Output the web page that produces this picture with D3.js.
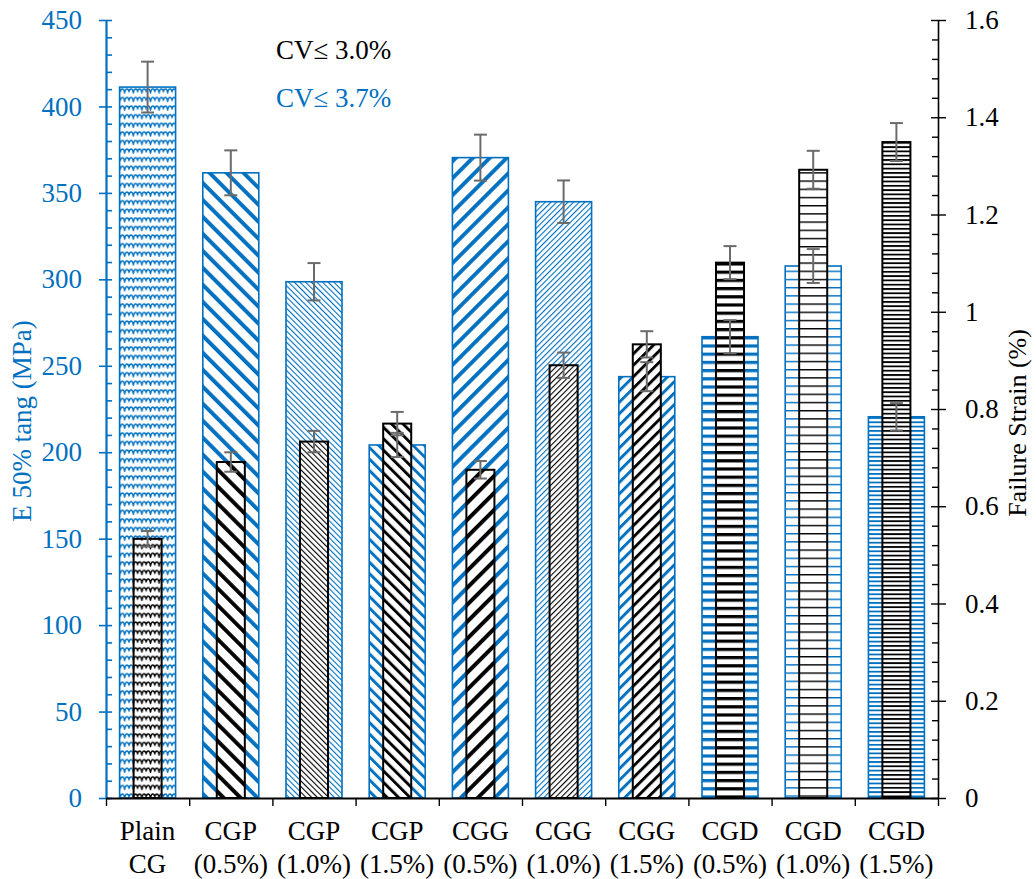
<!DOCTYPE html>
<html>
<head>
<meta charset="utf-8">
<script src="https://cdn.jsdelivr.net/npm/d3@7"></script>
<style>
  body { margin: 0; background: #fff; }
  svg { display: block; }
  svg text { font-family: "Liberation Serif", "DejaVu Serif", serif !important; }
</style>
</head>
<body>
<svg id="chart" width="1036" height="879"></svg>
<script>
// Mix designations and their two-line axis labels
const categories = ["Plain CG", "CGP (0.5%)", "CGP (1.0%)", "CGP (1.5%)", "CGG (0.5%)",
                    "CGG (1.0%)", "CGG (1.5%)", "CGD (0.5%)", "CGD (1.0%)", "CGD (1.5%)"];
const labelTop = ["Plain", "CGP", "CGP", "CGP", "CGG", "CGG", "CGG", "CGD", "CGD", "CGD"];
const labelBottom = ["CG", "(0.5%)", "(1.0%)", "(1.5%)", "(0.5%)", "(1.0%)", "(1.5%)", "(0.5%)", "(1.0%)", "(1.5%)"];

// E 50% tangent modulus (MPa) and its spread
const modulusE = [411.2, 361.6, 298.6, 204.2, 370.4, 344.9, 243.7, 266.8, 307.7, 220.5];
const modulusErr = [14.7, 13.0, 10.8, 7.0, 13.3, 12.3, 8.4, 9.6, 9.8, 7.9];

// Failure strain (%) and its spread
const failureStrain = [0.533, 0.691, 0.733, 0.770, 0.675, 0.890, 0.933, 1.101, 1.292, 1.349];
const strainErr = [0.016, 0.020, 0.022, 0.024, 0.018, 0.026, 0.027, 0.034, 0.039, 0.039];

// Hatch style used for each mix
const fillKinds = ["wave", "wideDown", "lightDown", "darkDown", "wideUp", "lightUp", "darkUp",
                   "wideHoriz", "lightHoriz", "narrowHoriz"];

// Axis ticks
const modulusTicks = [0, 50, 100, 150, 200, 250, 300, 350, 400, 450];
const modulusMinor = d3.range(0, 451, 10).filter(v => v % 50 !== 0);
const strainTicks = [0, 0.2, 0.4, 0.6, 0.8, 1.0, 1.2, 1.4, 1.6];
const strainMinor = d3.range(0, 41).map(i => i * 0.04).filter((v, i) => i % 5 !== 0);

// Notes
const notes = [
  { text: "CV\u2264 3.0%", color: "#000000" },
  { text: "CV\u2264 3.7%", color: "#0070C0" }
];

const BLUE = "#0070C0";
const ERR = "#6b6b6b";
const SERIF = '"Liberation Serif", "DejaVu Serif", serif';

const svg = d3.select("#chart");
const plotLeft = 106, plotRight = 938, plotTop = 20, plotBottom = 798;

const x = d3.scaleBand().domain(categories).range([plotLeft, plotRight]).paddingInner(0).paddingOuter(0);
const yE = d3.scaleLinear().domain([0, 450]).range([plotBottom, plotTop]);
const yS = d3.scaleLinear().domain([0, 1.6]).range([plotBottom, plotTop]);

// ---- hatch patterns ----
const defs = svg.append("defs");
function makePattern(kind, color) {
  const id = kind + "-" + (color === BLUE ? "blue" : "black");
  const p = defs.append("pattern").attr("id", id).attr("patternUnits", "userSpaceOnUse");
  if (kind === "wave") {
    const w = 8.6, h = 8.6;
    p.attr("width", w).attr("height", h);
    p.append("rect").attr("width", w).attr("height", h).attr("fill", "#fff");
    p.append("path")
      .attr("d", "M-0.6,6.8 C0.8,1.6 3.5,1.6 4.3,6.8 C5.1,1.6 7.8,1.6 9.2,6.8")
      .attr("fill", "none").attr("stroke", color).attr("stroke-width", 1.5)
      .attr("stroke-linejoin", "round");
  } else if (kind.endsWith("Down") || kind.endsWith("Up")) {
    const spec = kind.startsWith("wide") ? { P: 12, t: 3.9 }
               : kind.startsWith("dark") ? { P: 8.1, t: 2.9 }
               : { P: 4.0, t: 1.1 };
    p.attr("width", spec.P).attr("height", spec.P)
     .attr("patternTransform", `rotate(${kind.endsWith("Up") ? 45 : -45})`);
    p.append("rect").attr("width", spec.P).attr("height", spec.P).attr("fill", "#fff");
    p.append("rect").attr("width", spec.t).attr("height", spec.P).attr("fill", color);
  } else {
    const spec = kind === "wideHoriz" ? { P: 8.2, t: 3.2 }
               : kind === "lightHoriz" ? { P: 8.2, t: 1.4 }
               : { P: 4.3, t: 1.8 };
    p.attr("width", 8).attr("height", spec.P);
    p.append("rect").attr("width", 8).attr("height", spec.P).attr("fill", "#fff");
    p.append("rect").attr("width", 8).attr("height", spec.t).attr("fill", color);
  }
  return `url(#${id})`;
}
const blueFill = fillKinds.map(k => makePattern(k, BLUE));
const blackFill = fillKinds.map(k => makePattern(k, "#000"));

const bw = x.bandwidth();
const wideW = bw * 0.673, narrowW = bw * 0.337;

// ---- modulus bars (left axis) ----
svg.append("g").selectAll("rect").data(categories).join("rect")
  .attr("x", d => x(d) + (bw - wideW) / 2)
  .attr("y", (d, i) => yE(modulusE[i]))
  .attr("width", wideW)
  .attr("height", (d, i) => yE(0) - yE(modulusE[i]))
  .attr("fill", (d, i) => blueFill[i])
  .attr("stroke", BLUE).attr("stroke-width", 1.6);

// ---- strain bars (right axis) ----
svg.append("g").selectAll("rect").data(categories).join("rect")
  .attr("x", d => x(d) + (bw - narrowW) / 2)
  .attr("y", (d, i) => yS(failureStrain[i]))
  .attr("width", narrowW)
  .attr("height", (d, i) => yS(0) - yS(failureStrain[i]))
  .attr("fill", (d, i) => blackFill[i])
  .attr("stroke", "#000").attr("stroke-width", 2);

// ---- error bars ----
function errorBars(values, errs, scale) {
  const g = svg.append("g").attr("stroke", ERR).attr("stroke-width", 2);
  categories.forEach((c, i) => {
    const cx = x(c) + bw / 2;
    const y1 = scale(values[i] + errs[i]), y2 = scale(values[i] - errs[i]);
    g.append("line").attr("x1", cx).attr("x2", cx).attr("y1", y1).attr("y2", y2);
    g.append("line").attr("x1", cx - 6.5).attr("x2", cx + 6.5).attr("y1", y1).attr("y2", y1);
    g.append("line").attr("x1", cx - 6.5).attr("x2", cx + 6.5).attr("y1", y2).attr("y2", y2);
  });
}
errorBars(modulusE, modulusErr, yE);
errorBars(failureStrain, strainErr, yS);

// ---- left axis ----
const leftMinor = svg.append("g").attr("transform", `translate(${plotLeft},0)`)
  .call(d3.axisLeft(yE).tickValues(modulusMinor).tickSize(-6).tickFormat(""));
leftMinor.select(".domain").remove();
leftMinor.selectAll("line").attr("stroke", BLUE).attr("stroke-width", 1.6);

const leftAxis = svg.append("g").attr("transform", `translate(${plotLeft},0)`)
  .call(d3.axisLeft(yE).tickValues(modulusTicks).tickSize(7).tickSizeOuter(0).tickPadding(17));
leftAxis.attr("font-family", SERIF);
leftAxis.select(".domain").attr("stroke", BLUE).attr("stroke-width", 2.2);
leftAxis.selectAll(".tick line").attr("x1", 6).attr("stroke", BLUE).attr("stroke-width", 1.6);
leftAxis.selectAll(".tick text").attr("fill", BLUE)
  .style("font-family", SERIF).style("font-size", "27px");

// ---- right axis ----
const rightMinor = svg.append("g").attr("transform", `translate(${plotRight},0)`)
  .call(d3.axisRight(yS).tickValues(strainMinor).tickSize(-6).tickFormat(""));
rightMinor.select(".domain").remove();
rightMinor.selectAll("line").attr("stroke", "#000").attr("stroke-width", 1.4);

const rightAxis = svg.append("g").attr("transform", `translate(${plotRight},0)`)
  .call(d3.axisRight(yS).tickValues(strainTicks).tickSize(8).tickSizeOuter(0).tickPadding(19)
    .tickFormat(d3.format("~g")));
rightAxis.attr("font-family", SERIF);
rightAxis.select(".domain").attr("stroke", "#000").attr("stroke-width", 1.6);
rightAxis.selectAll(".tick line").attr("x1", -7).attr("stroke", "#000").attr("stroke-width", 1.4);
rightAxis.selectAll(".tick text").attr("fill", "#000")
  .style("font-family", SERIF).style("font-size", "27px");

// ---- bottom axis: ticks at category boundaries ----
const xb = d3.scaleLinear().domain([0, categories.length]).range([plotLeft, plotRight]);
const bottomAxis = svg.append("g").attr("transform", `translate(0,${plotBottom})`)
  .call(d3.axisBottom(xb).tickValues(d3.range(0, categories.length + 1)).tickSize(8)
    .tickSizeOuter(0).tickFormat(""));
bottomAxis.select(".domain").attr("stroke", "#000").attr("stroke-width", 2);
bottomAxis.selectAll(".tick line").attr("stroke", "#000").attr("stroke-width", 1.4);

const labels = svg.append("g").attr("text-anchor", "middle").attr("fill", "#000");
categories.forEach((c, i) => {
  const cx = x(c) + bw / 2;
  labels.append("text").attr("x", cx).attr("y", 840)
    .style("font-family", SERIF).style("font-size", "27px").text(labelTop[i]);
  labels.append("text").attr("x", cx).attr("y", 873)
    .style("font-family", SERIF).style("font-size", "27px").text(labelBottom[i]);
});

// ---- axis titles ----
svg.append("text")
  .attr("transform", "translate(31,421) rotate(-90)")
  .attr("text-anchor", "middle").attr("fill", BLUE)
  .style("font-family", SERIF).style("font-size", "27px")
  .text("E 50% tang (MPa)");
svg.append("text")
  .attr("transform", "translate(1026,423) rotate(-90)")
  .attr("text-anchor", "middle").attr("fill", "#000")
  .style("font-family", SERIF).style("font-size", "26px")
  .text("Failure Strain (%)");

// ---- CV notes ----
svg.append("g").selectAll("text").data(notes).join("text")
  .attr("x", 276).attr("y", (d, i) => 59 + i * 48)
  .attr("fill", d => d.color)
  .style("font-family", SERIF).style("font-size", "27px")
  .text(d => d.text);
</script>
</body>
</html>
